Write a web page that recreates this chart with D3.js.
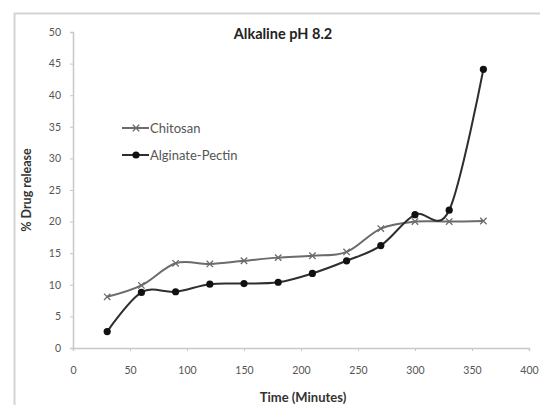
<!DOCTYPE html>
<html>
<head>
<meta charset="utf-8">
<script src="https://cdn.jsdelivr.net/npm/d3@7"></script>
<style>
  html, body { margin: 0; padding: 0; background: #fff; }
  svg { display: block; }
  text { font-family: Lato, "Open Sans", sans-serif; }
</style>
</head>
<body>
<svg id="chart" width="540" height="405"></svg>
<script>
// Sampling times (minutes)
const times = [30, 60, 90, 120, 150, 180, 210, 240, 270, 300, 330, 360];
// % drug release at pH 8.2
const chitosan = [8.1, 9.9, 13.4, 13.3, 13.8, 14.3, 14.6, 15.2, 18.9, 20.0, 20.0, 20.1];
const alginatePectin = [2.6, 8.8, 8.9, 10.1, 10.2, 10.4, 11.8, 13.8, 16.2, 21.1, 21.8, 44.1];
const seriesNames = ["Chitosan", "Alginate-Pectin"];
const xTicks = [0, 50, 100, 150, 200, 250, 300, 350, 400];
const yTicks = [0, 5, 10, 15, 20, 25, 30, 35, 40, 45, 50];

const svg = d3.select("#chart");

// outer chart frame
svg.append("rect")
  .attr("x", 14.5).attr("y", 13.5)
  .attr("width", 540).attr("height", 400)
  .attr("fill", "none").attr("stroke", "#d4d4d4").attr("stroke-width", 2);

const x = d3.scaleLinear().domain([0, 400]).range([73, 529]);
const y = d3.scaleLinear().domain([0, 50]).range([348, 32]);

// axes
const gx = svg.append("g").attr("transform", `translate(0,${y(0)})`)
  .call(d3.axisBottom(x).tickValues(xTicks).tickSize(3).tickPadding(16));
const gy = svg.append("g").attr("transform", `translate(${x(0)},0)`)
  .call(d3.axisLeft(y).tickValues(yTicks).tickSize(3).tickPadding(9));
[gx, gy].forEach(g => {
  g.select(".domain").attr("stroke", "#c8c8c8").attr("stroke-width", 1.5);
  g.selectAll(".tick line").attr("stroke", "#c8c8c8");
  g.selectAll(".tick text").attr("fill", "#555").style("font-size", "10.5px")
    .style("font-family", "Lato, sans-serif");
});

// title and axis titles
svg.append("text").attr("x", 283).attr("y", 39).attr("text-anchor", "middle")
  .style("font-size", "14.5px").style("font-weight", "bold").attr("fill", "#222")
  .text("Alkaline pH 8.2");
svg.append("text").attr("x", 303).attr("y", 402).attr("text-anchor", "middle")
  .style("font-size", "13px").style("font-weight", "bold").attr("fill", "#333")
  .text("Time (Minutes)");
svg.append("text")
  .attr("transform", "translate(31,190) rotate(-90)")
  .attr("text-anchor", "middle")
  .style("font-size", "12.5px").style("font-weight", "bold").attr("fill", "#333")
  .text("% Drug release");

const line = d3.line()
  .x(d => x(d[0])).y(d => y(d[1]))
  .curve(d3.curveCatmullRom.alpha(0));

function crossMarker(g, cx, cy, color) {
  const s = 3.2;
  g.append("path")
    .attr("d", `M${cx - s},${cy - s}L${cx + s},${cy + s}M${cx - s},${cy + s}L${cx + s},${cy - s}`)
    .attr("stroke", color).attr("stroke-width", 1.3).attr("fill", "none");
}

const chiColor = "#6b6b6b";
const algColor = "#2e2e2e";

// Chitosan series
const chiData = times.map((t, i) => [t, chitosan[i]]);
svg.append("path").datum(chiData).attr("d", line)
  .attr("fill", "none").attr("stroke", chiColor).attr("stroke-width", 2);
const chiG = svg.append("g");
chiData.forEach(d => crossMarker(chiG, x(d[0]), y(d[1]), chiColor));

// Alginate-Pectin series
const algData = times.map((t, i) => [t, alginatePectin[i]]);
svg.append("path").datum(algData).attr("d", line)
  .attr("fill", "none").attr("stroke", algColor).attr("stroke-width", 2);
svg.append("g").selectAll("circle").data(algData).join("circle")
  .attr("cx", d => x(d[0])).attr("cy", d => y(d[1])).attr("r", 3.6)
  .attr("fill", "#111");

// legend
const legend = svg.append("g");
const legY = [128, 155];
seriesNames.forEach((name, i) => {
  const col = i === 0 ? chiColor : algColor;
  legend.append("line").attr("x1", 122).attr("x2", 149)
    .attr("y1", legY[i]).attr("y2", legY[i])
    .attr("stroke", col).attr("stroke-width", 2);
  if (i === 0) crossMarker(legend, 136, legY[i], col);
  else legend.append("circle").attr("cx", 136).attr("cy", legY[i]).attr("r", 3.6).attr("fill", "#111");
  legend.append("text").attr("x", 150).attr("y", legY[i] + 4.5)
    .style("font-size", "13px").attr("fill", "#555").text(name);
});
</script>
</body>
</html>
